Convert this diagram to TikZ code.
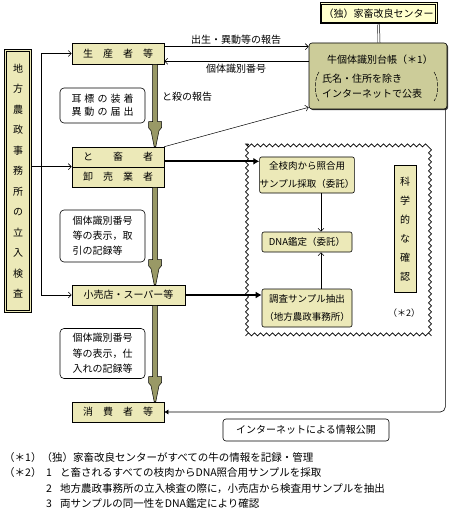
\documentclass[tikz,border=0pt]{standalone}
\usepackage{fontspec}
\setmainfont{Noto Sans CJK JP}
\usetikzlibrary{arrows.meta,calc,decorations.pathmorphing,shadows}
\definecolor{khaki}{RGB}{236,233,184}
\definecolor{olivebox}{RGB}{204,204,153}
\definecolor{arrowol}{RGB}{153,153,102}
\definecolor{lightyel}{RGB}{255,255,204}
\tikzset{
  kbox/.style={draw=black, fill=khaki, line width=0.6bp, inner sep=0pt, align=center},
  notebox/.style={draw=black, fill=white, rounded corners=4bp, line width=0.6bp, inner sep=0pt, align=left},
  lbl/.style={inner sep=0pt},
  conn/.style={line width=0.6bp},
  tipo/.style={-{Straight Barb[length=3bp,width=6bp]}},
  heavy/.style={line width=2.2bp, -{Latex[length=6bp,width=7bp]}},
  bigarrow/.style={fill=arrowol, draw=black, line width=0.5bp},
  fs/.style={font=\fontsize{10bp}{12bp}\selectfont},
  fn/.style={inner sep=0pt, anchor=west, font=\fontsize{10.5bp}{12bp}\selectfont},
}
\begin{document}
\begin{tikzpicture}[x=1bp,y=-1bp, fs]
\useasboundingbox[fill=white] (0,0) rectangle (450,517);

% top boxes
\node[draw=black, fill=lightyel, line width=1bp, minimum width=117bp, minimum height=21bp, inner sep=0pt] (dok) at (378.5,13.5) {（独）家畜改良センター};
\draw[line width=0.5bp] ($(dok.north west)+(2,2)$) rectangle ($(dok.south east)+(-2,-2)$);
\draw[line width=0.5bp, double, double distance=1.5bp] (dok.south) -- (379,43);
\node[draw=black, fill=olivebox, rounded corners=3bp, line width=0.6bp,
      drop shadow={shadow xshift=1.2bp, shadow yshift=-1.2bp, fill=black!75, opacity=1},
      minimum width=138bp, minimum height=66bp, inner sep=0pt] (daicho) at (378,76) {};
\node[lbl] (d0) at (380,60) {牛個体識別台帳（＊1）};
\node[lbl, anchor=west] (d1) at (322,79) {氏名・住所を除き};
\node[lbl, anchor=west] (d2) at (322,94) {インターネットで公表};
\draw[line width=0.5bp, dash pattern=on 4bp off 1.5bp] (319,72) .. controls (314,79) and (314,95) .. (319,101);
\draw[line width=0.5bp, dash pattern=on 4bp off 1.5bp] (434,72) .. controls (439,79) and (439,95) .. (434,101);

% main chain
\node[kbox, minimum width=92bp, minimum height=21bp] (sei) at (118,53.5) {生　産　者　等};
\node[kbox, minimum width=92bp, minimum height=20bp] (tochiku) at (118,157) {と　　畜　　者};
\node[kbox, minimum width=92bp, minimum height=20bp] (oroshi) at (118,177) {卸　売　業　者};
\node[kbox, minimum width=113bp, minimum height=20bp] (kouri) at (128.5,295) {小売店・スーパー等};
\node[kbox, minimum width=92bp, minimum height=20bp] (shohi) at (118,412) {消　費　者　等};

% left box
\node[draw=black, fill=khaki, line width=1bp, inner sep=0pt, align=center, minimum width=26bp, minimum height=262bp, font=\fontsize{10bp}{20.5bp}\selectfont] (chiho) at (18,181)
  {地\\方\\農\\政\\事\\務\\所\\の\\立\\入\\検\\査};
\draw[line width=0.5bp] ($(chiho.north west)+(2,2)$) rectangle ($(chiho.south east)+(-2,-2)$);

% notes
\node[notebox, minimum width=85bp, minimum height=35bp, font=\fontsize{10bp}{13bp}\selectfont\addfontfeature{LetterSpace=30}] (mimi) at (102.5,105.5)
  {耳標の装着\\異動の届出};
\node[notebox, minimum width=85bp, minimum height=52bp, font=\fontsize{10bp}{15bp}\selectfont] (kanri1) at (102.5,236)
  {個体識別番号\\等の表示，取\\引の記録等};
\node[notebox, minimum width=85bp, minimum height=50bp, font=\fontsize{10bp}{15.5bp}\selectfont] (kanri2) at (102.5,353.5)
  {個体識別番号\\等の表示，仕\\入れの記録等};

% labels
\node[lbl] (l1) at (236,40) {出生・異動等の報告};
\node[lbl] (l2) at (236,69) {個体識別番号};
\node[lbl, anchor=west] (l3) at (162,97) {と殺の報告};

% wavy frame
\draw[line width=0.6bp, decorate, decoration={snake, amplitude=1.5bp, segment length=6bp}]
  (247,145) rectangle (435,333);

% inner boxes
\node[kbox, rounded corners=2bp, minimum width=90bp, minimum height=36bp, font=\fontsize{9.5bp}{18bp}\selectfont] (zenshi) at (307,175)
  {全枝肉から照合用\\サンプル採取（委託）};
\node[kbox, rounded corners=2bp, minimum width=90bp, minimum height=20bp, font=\fontsize{9.5bp}{12bp}\selectfont] (dna) at (307,242)
  {DNA鑑定（委託）};
\node[kbox, rounded corners=2bp, minimum width=90bp, minimum height=38bp, font=\fontsize{9.5bp}{18bp}\selectfont] (chosa) at (307,308)
  {調査サンプル抽出\\（地方農政事務所）};
\node[kbox, minimum width=22bp, minimum height=127bp, font=\fontsize{10bp}{19bp}\selectfont] (kagaku) at (405,229)
  {科\\学\\的\\な\\確\\認};
\node[lbl, font=\fontsize{9bp}{11bp}\selectfont] (star2) at (404,313) {（＊2）};

% internet box
\node[draw=black, fill=white, rounded corners=3bp, line width=0.6bp, minimum width=166bp, minimum height=22bp, inner sep=0pt] (net) at (306,430)
  {インターネットによる情報公開};

% connectors
\coordinate (p1) at ($(sei.north east)+(0,4)$);
\draw[conn, tipo] (p1) -- (p1 -| daicho.west);
\coordinate (p2) at ($(sei.south east)+(0,-3)$);
\draw[conn, tipo] (p2 -| daicho.west) -- (p2);
\draw[line width=0.5bp, tipo] (tochiku.north east) -- ($(daicho.south west)+(0,-2)$);
\coordinate (p3) at ($(tochiku.south east)+(0,-6)$);
\draw[heavy] (p3) -- (p3 -| zenshi.west);
\draw[heavy] (kouri.east) -- (kouri.east -| chosa.west);
\draw[conn, tipo] ($(zenshi.south)+(14,0)$) -- ($(dna.north)+(14,0)$);
\draw[conn, tipo] ($(chosa.north)+(14,0)$) -- ($(dna.south)+(14,0)$);
\draw[conn, -{Latex[length=4bp,width=5bp]}, rounded corners=5bp] ($(daicho.south east)+(-2,0)$) |- (shohi.east);
\coordinate (lv) at (41,0);
\draw[conn, {Straight Barb[length=3bp,width=6bp]}-{Straight Barb[length=3bp,width=6bp]}]
  (sei.west) -- (lv |- sei.west) -- (lv |- kouri.west) -- (kouri.west);
\draw[conn, tipo] (chiho.east |- oroshi.north west) -- (oroshi.north west);

% thick downward arrows
\coordinate (spine) at (155,0);
\foreach \a/\b in {sei/tochiku, oroshi/kouri, kouri/shohi}{
  \path[bigarrow] let \p1=(spine |- \a.south), \p2=(spine |- \b.north) in
    (\x1-2.5bp,\y1) -- (\x1-2.5bp,\y2+25bp) -- (\x1-6.5bp,\y2+25bp) -- (\x1-6.5bp,\y2+19bp)
    -- (\x1-4bp,\y2+16bp) -- (\x1-0.8bp,\y2) -- (\x1+0.8bp,\y2) -- (\x1+4bp,\y2+16bp)
    -- (\x1+6.5bp,\y2+19bp) -- (\x1+6.5bp,\y2+25bp) -- (\x1+2.5bp,\y2+25bp) -- (\x1+2.5bp,\y1) -- cycle;
}

% footnotes
\node[fn] (f1) at (4,458) {（＊1）（独）家畜改良センターがすべての牛の情報を記録・管理};
\node[fn] (f2) at (4,473) {（＊2）};
\node[fn] (n1) at (46,473) {1};
\node[fn] (t1) at (60,473) {と畜されるすべての枝肉からDNA照合用サンプルを採取};
\node[fn] (n2) at (46,489) {2};
\node[fn] (t2) at (60,489) {地方農政事務所の立入検査の際に，小売店から検査用サンプルを抽出};
\node[fn] (n3) at (46,504) {3};
\node[fn] (t3) at (60,504) {両サンプルの同一性をDNA鑑定により確認};
\end{tikzpicture}
\end{document}
